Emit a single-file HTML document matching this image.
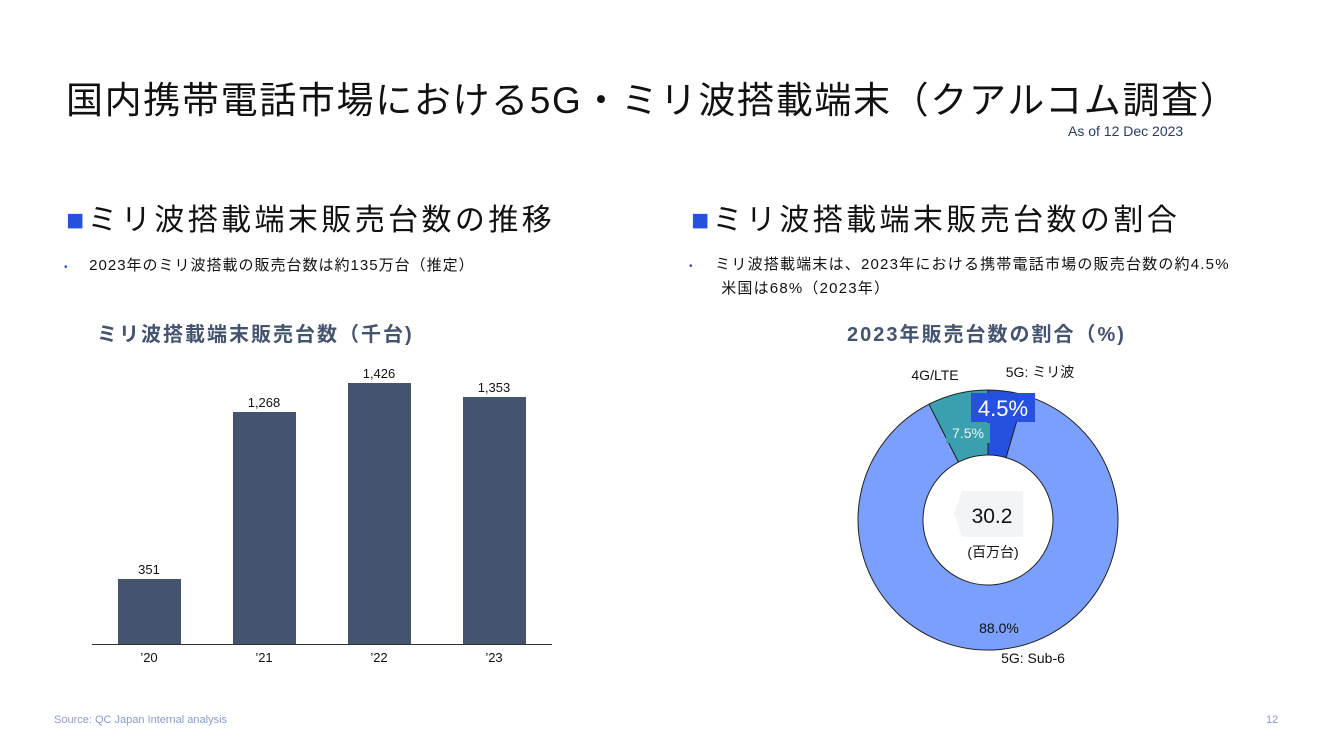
<!DOCTYPE html>
<html><head><meta charset="utf-8"><style>
body{margin:0;width:1333px;height:750px;background:#fff;font-family:"Liberation Sans","Noto Sans CJK JP",sans-serif;position:relative;overflow:hidden;color:#111}
.a{position:absolute;white-space:nowrap}
</style></head><body>
<div class="a" style="left:66px;top:70px;font-size:37px;letter-spacing:1.65px">国内携帯電話市場における5G・ミリ波搭載端末（クアルコム調査）</div>
<div class="a" style="left:1068px;top:123px;font-size:14px;color:#2a3a66">As of 12 Dec 2023</div>
<div class="a" style="left:66px;top:195px;font-size:30px;letter-spacing:3.4px"><span style="color:#2550e0">■</span>ミリ波搭載端末販売台数の推移</div>
<div class="a" style="left:691px;top:195px;font-size:30px;letter-spacing:3.4px"><span style="color:#2550e0">■</span>ミリ波搭載端末販売台数の割合</div>
<div class="a" style="left:64px;top:254px;font-size:15px;letter-spacing:1px"><span style="color:#2550e0;font-size:10px">•</span>&nbsp;&nbsp;&nbsp; 2023年のミリ波搭載の販売台数は約135万台（推定）</div>
<div class="a" style="left:689px;top:254px;font-size:15px;line-height:22px;letter-spacing:1.2px"><span style="color:#2550e0;font-size:10px">•</span>&nbsp;&nbsp;&nbsp; ミリ波搭載端末は、2023年における携帯電話市場の販売台数の約4.5%<br>&nbsp;&nbsp;&nbsp;&nbsp;&nbsp;&nbsp;米国は68%（2023年）</div>
<div class="a" style="left:97px;top:318px;font-size:20px;font-weight:bold;color:#44546f;letter-spacing:2px">ミリ波搭載端末販売台数（千台)</div>
<div class="a" style="left:847px;top:318px;font-size:20px;font-weight:bold;color:#44546f;letter-spacing:2px">2023年販売台数の割合（%)</div>
<svg class="a" style="left:0;top:0" width="1333" height="750">
<g fill="#44546f">
<rect x="118" y="579" width="63" height="65"/><rect x="233" y="412" width="63" height="232"/>
<rect x="348" y="383" width="63" height="261"/><rect x="463" y="397" width="63" height="247"/>
</g>
<line x1="92" y1="644.5" x2="552" y2="644.5" stroke="#333" stroke-width="1"/>
<g font-size="13" text-anchor="middle" fill="#111">
<text x="149" y="574">351</text><text x="264" y="407">1,268</text><text x="379" y="378">1,426</text><text x="494" y="392">1,353</text>
<text x="149" y="662">’20</text><text x="264" y="662">’21</text><text x="379" y="662">’22</text><text x="494" y="662">’23</text>
</g>
<g stroke="#222" stroke-width="1">
<path d="M988 390 A130 130 0 0 1 1024.3 395.2 L1006.1 457.6 A65 65 0 0 0 988 455 Z" fill="#2550e0"/>
<path d="M1024.3 395.2 A130 130 0 1 1 929 404.2 L958.5 462.1 A65 65 0 1 0 1006.1 457.6 Z" fill="#7b9ffc"/>
<path d="M929 404.2 A130 130 0 0 1 988 390 L988 455 A65 65 0 0 0 958.5 462.1 Z" fill="#3aa0b0"/>
</g>
<rect x="971" y="393" width="64" height="29" fill="#2550e0"/>
<text x="1003" y="416" font-size="22" fill="#fff" text-anchor="middle">4.5%</text>
<rect x="946" y="423" width="44" height="20" fill="#3aa0b0"/>
<text x="968" y="438" font-size="14" fill="#e8f4f6" text-anchor="middle">7.5%</text>
<polygon points="962,491 1023,491 1023,537 962,537 954,514" fill="#f3f4f6"/>
<text x="992" y="523" font-size="21" text-anchor="middle" fill="#111">30.2</text>
<text x="993" y="557" font-size="14" text-anchor="middle" fill="#111">(百万台)</text>
<text x="999" y="633" font-size="14" text-anchor="middle" fill="#111">88.0%</text>
<text x="935" y="380" font-size="14" text-anchor="middle" fill="#111">4G/LTE</text>
<text x="1040" y="377" font-size="14" text-anchor="middle" fill="#111">5G: ミリ波</text>
<text x="1033" y="663" font-size="14" text-anchor="middle" fill="#111">5G: Sub-6</text>
</svg>
<div class="a" style="left:54px;top:714px;font-size:11px;color:#8a9bd0">Source: QC Japan Internal analysis</div>
<div class="a" style="left:1266px;top:714px;font-size:11px;color:#8a9bd0">12</div>
</body></html>
